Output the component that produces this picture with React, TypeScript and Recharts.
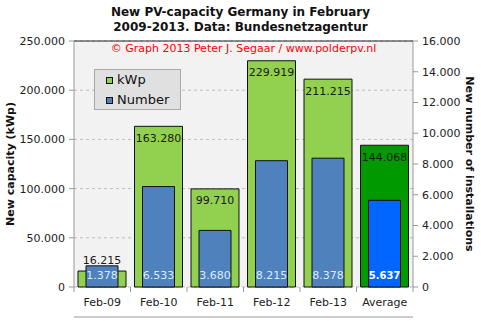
import React from "react";
import { BarChart, Bar, XAxis, YAxis, CartesianGrid, Cell, ReferenceLine, LabelList } from "recharts";

const periods = ["Feb-09", "Feb-10", "Feb-11", "Feb-12", "Feb-13", "Average"];
const capacityKwp = [16215, 163280, 99710, 229919, 211215, 144068];
const installations = [1378, 6533, 3680, 8215, 8378, 5637];
const capacityTicks = [0, 50000, 100000, 150000, 200000, 250000];
const installationTicks = [0, 2000, 4000, 6000, 8000, 10000, 12000, 14000, 16000];

const W = 481;
const H = 321;
const LEFT_W = 74;
const RIGHT_W = 68;
const TOP = 41;
const X_H = 34;
const AXIS_Y = H - X_H;
const BAND = (W - LEFT_W - RIGHT_W) / periods.length;

const data = periods.map((p, i) => ({ period: p, kwp: capacityKwp[i], number: installations[i] }));

// dotted thousands, like the original
function fmt(n: number) {
  return String(n).replace(/\B(?=(\d{3})+(?!\d))/g, ".");
}

function GreenLabel(props: any) {
  const { x, y, width, height, value } = props;
  const cy = height < 20 ? y - 11 : y + 12;
  return (
    <text x={x + width / 2} y={cy} textAnchor="middle" dominantBaseline="central" fontSize={11} fill="#1a1a1a">
      {fmt(value)}
    </text>
  );
}

function BlueLabel(props: any) {
  const { x, y, width, height, value, index } = props;
  const avg = index === periods.length - 1;
  return (
    <text x={x + width / 2} y={y + height - 12} textAnchor="middle" dominantBaseline="central"
      fontSize={avg ? 10 : 11} fill={avg ? "#ffffff" : "#dcecff"} fontWeight={avg ? "bold" : "normal"}>
      {fmt(value)}
    </text>
  );
}

function XTick(props: any) {
  const { x, payload, index } = props;
  const half = BAND / 2;
  const y = AXIS_Y;
  return (
    <g>
      <line x1={x - half} x2={x - half} y1={y} y2={y + 5} stroke="#999" />
      {index === periods.length - 1 && <line x1={x + half} x2={x + half} y1={y} y2={y + 5} stroke="#999" />}
      <text x={x} y={y + 15} textAnchor="middle" dominantBaseline="central" fontSize={11} fill="#222">
        {payload.value}
      </text>
    </g>
  );
}

export default function App() {
  return (
    <div style={{ position: "absolute", left: 0, top: 0, width: W, height: H, background: "#fff", fontFamily: "'DejaVu Sans', Verdana, sans-serif" }}>
      <div style={{ position: "absolute", left: 0, top: 5, width: W, textAlign: "center", fontSize: 12, fontWeight: "bold", lineHeight: "15px", color: "#111" }}>
        New PV-capacity Germany in February
        <br />
        2009-2013. Data: Bundesnetzagentur
      </div>
      <BarChart width={W} height={H} data={data} margin={{ top: TOP, right: 0, bottom: 0, left: 0 }} barGap={0}>
        <CartesianGrid xAxisId="g" yAxisId="left" vertical={false} stroke="#bdbdbd" strokeDasharray="3 3" fill="#f2f2f2" />
        <XAxis xAxisId="g" dataKey="period" height={X_H} tickLine={false}
          axisLine={{ stroke: "#999" }} tick={<XTick />} interval={0} />
        <XAxis xAxisId="b" dataKey="period" hide />
        <YAxis yAxisId="left" width={LEFT_W} domain={[0, 250000]} ticks={capacityTicks} tickFormatter={fmt}
          tick={{ fontSize: 11, fill: "#222" }} axisLine={{ stroke: "#999" }} tickLine={{ stroke: "#999" }} tickSize={5} tickMargin={4}
          label={{ value: "New capacity (kWp)", angle: -90, position: "insideLeft", offset: 10, textAnchor: "middle", style: { fontSize: 11, fontWeight: "bold", fill: "#111" } }} />
        <YAxis yAxisId="right" orientation="right" width={RIGHT_W} domain={[0, 16000]} ticks={installationTicks} tickFormatter={fmt}
          tick={{ fontSize: 11, fill: "#222" }} axisLine={{ stroke: "#999" }} tickLine={{ stroke: "#999" }} tickSize={5} tickMargin={4}
          label={{ value: "New number of installations", angle: 90, position: "insideRight", offset: 11, textAnchor: "middle", style: { fontSize: 11, fontWeight: "bold", fill: "#111" } }} />
        <ReferenceLine xAxisId="g" yAxisId="left" y={250000} stroke="#222" />
        <Bar xAxisId="g" yAxisId="left" dataKey="kwp" barSize={48} fill="#92d050" stroke="#111" isAnimationActive={false}>
          {data.map((d, i) => (
            <Cell key={d.period} fill={i === periods.length - 1 ? "#009900" : "#92d050"} />
          ))}
          <LabelList dataKey="kwp" content={<GreenLabel />} />
        </Bar>
        <Bar xAxisId="b" yAxisId="right" dataKey="number" barSize={32} fill="#4f81bd" stroke="#111" isAnimationActive={false}>
          {data.map((d, i) => (
            <Cell key={d.period} fill={i === periods.length - 1 ? "#0066ff" : "#4f81bd"} />
          ))}
          <LabelList dataKey="number" content={<BlueLabel />} />
        </Bar>
      </BarChart>
      <div style={{ position: "absolute", left: LEFT_W, top: 42, width: W - LEFT_W - RIGHT_W, textAlign: "center", fontSize: 11, color: "#ff0000" }}>
        © Graph 2013 Peter J. Segaar / www.polderpv.nl
      </div>
      <div style={{ position: "absolute", left: 94, top: 69, width: 85, height: 39, background: "#e0e0e0", border: "1px solid #a8a8a8", fontSize: 13, color: "#111" }}>
        <div style={{ position: "absolute", left: 11, top: 7, width: 5, height: 5, background: "#92d050", border: "1px solid #111" }} />
        <div style={{ position: "absolute", left: 22, top: 2, lineHeight: "16px" }}>kWp</div>
        <div style={{ position: "absolute", left: 11, top: 27, width: 5, height: 5, background: "#4f81bd", border: "1px solid #111" }} />
        <div style={{ position: "absolute", left: 22, top: 22, lineHeight: "16px" }}>Number</div>
      </div>
    </div>
  );
}
